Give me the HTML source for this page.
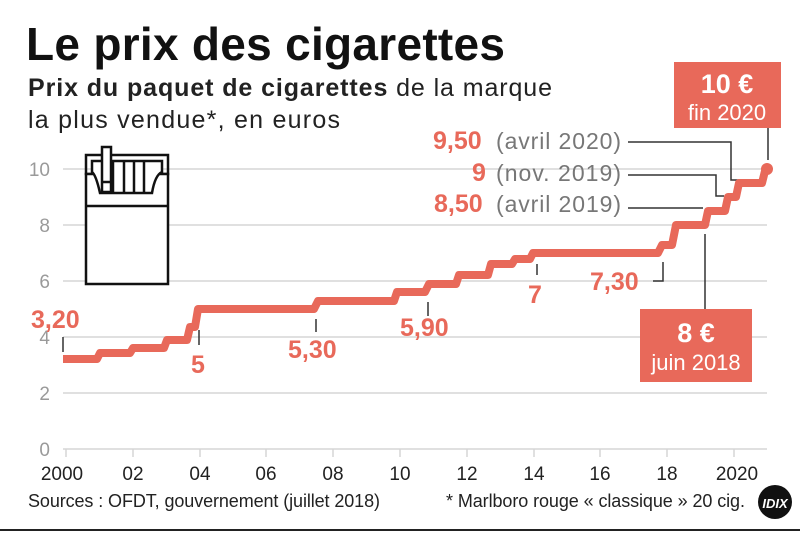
<!DOCTYPE html>
<html><head><meta charset="utf-8"><style>
body{margin:0;background:#fff;width:800px;height:534px;overflow:hidden;font-family:"Liberation Sans",sans-serif}
</style></head><body>
<svg width="800" height="534" viewBox="0 0 800 534" xmlns="http://www.w3.org/2000/svg" font-family="Liberation Sans, sans-serif">
<text x="26" y="60" font-size="46" font-weight="bold" fill="#111" textLength="479">Le prix des cigarettes</text>
<text x="28" y="96" font-size="25" fill="#222" textLength="524"><tspan font-weight="bold">Prix du paquet de cigarettes</tspan> de la marque</text>
<text x="28" y="128" font-size="25" fill="#222" textLength="312">la plus vendue*, en euros</text>
<g stroke="#d6d6d6" stroke-width="1.5">
<line x1="63" y1="169" x2="767" y2="169"/><line x1="63" y1="225" x2="767" y2="225"/>
<line x1="63" y1="281" x2="767" y2="281"/><line x1="63" y1="337" x2="767" y2="337"/>
<line x1="63" y1="393" x2="767" y2="393"/><line x1="63" y1="449" x2="767" y2="449"/>
</g>
<g stroke="#d6d6d6" stroke-width="1.5">
<line x1="66" y1="449" x2="66" y2="457"/><line x1="133" y1="449" x2="133" y2="457"/><line x1="200" y1="449" x2="200" y2="457"/><line x1="266" y1="449" x2="266" y2="457"/><line x1="333" y1="449" x2="333" y2="457"/><line x1="400" y1="449" x2="400" y2="457"/><line x1="467" y1="449" x2="467" y2="457"/><line x1="534" y1="449" x2="534" y2="457"/><line x1="600" y1="449" x2="600" y2="457"/><line x1="667" y1="449" x2="667" y2="457"/><line x1="734" y1="449" x2="734" y2="457"/>
</g>
<g font-size="19" fill="#9a9a9a" text-anchor="end">
<text x="50" y="176">10</text><text x="50" y="232">8</text><text x="50" y="288">6</text><text x="50" y="344">4</text><text x="50" y="400">2</text><text x="50" y="456">0</text>
</g>
<g font-size="19" fill="#222" text-anchor="middle">
<text x="62" y="480">2000</text><text x="133" y="480">02</text><text x="200" y="480">04</text><text x="266" y="480">06</text><text x="333" y="480">08</text><text x="400" y="480">10</text><text x="467" y="480">12</text><text x="534" y="480">14</text><text x="600" y="480">16</text><text x="667" y="480">18</text><text x="737" y="480">2020</text>
</g>
<g fill="none" stroke="#111" stroke-width="2.5">
<rect x="86" y="155" width="82" height="19"/>
<rect x="86" y="174" width="82" height="110" fill="#fff"/>
<line x1="86" y1="206" x2="168" y2="206"/>
<path d="M92 161 H162 V172 Q155 175 152 193 H100 Q96 175 92 172 Z" fill="#fff"/>
<line x1="113" y1="162" x2="113" y2="193"/><line x1="124" y1="162" x2="124" y2="193"/><line x1="134" y1="162" x2="134" y2="193"/><line x1="144" y1="162" x2="144" y2="193"/>
<rect x="102" y="147" width="9" height="45" fill="#fff"/>
<line x1="102" y1="182" x2="111" y2="182"/>
</g>
<g stroke="#333" stroke-width="1.5" fill="none">
<line x1="63" y1="337" x2="63" y2="352"/>
<line x1="199" y1="330" x2="199" y2="345"/>
<line x1="316" y1="319" x2="316" y2="332"/>
<line x1="428" y1="302" x2="428" y2="316"/>
<line x1="537" y1="264" x2="537" y2="275"/>
<polyline points="653,281 663,281 663,262"/>
<line x1="705" y1="234" x2="705" y2="310"/>
<polyline points="628,208 703,208"/>
<polyline points="628,175 716,175 716,196 724,196"/>
<polyline points="628,142 731,142 731,180 740,180"/>
<line x1="768" y1="128" x2="768" y2="160"/>
</g>
<polyline fill="none" stroke="#e8695a" stroke-width="8" stroke-linejoin="round" points="63,359 97,359 100,353 130,353 133,348 164,348 167,340 187,340 190,327 195,327 198,309 314,309 318,301 394,301 397,292 425,292 429,284 456,284 459,275 488,275 491,264 512,264 515,259 530,259 533,253 658,253 662,245 672,245 676,225 705,225 708,211 725,211 728,197 736,197 739,183 762,183 765,171"/>
<circle cx="767" cy="169" r="6" fill="#e8695a"/>
<g font-weight="bold" fill="#e8695a" font-size="25">
<text x="31" y="328">3,20</text>
<text x="191" y="373">5</text>
<text x="288" y="358">5,30</text>
<text x="400" y="336">5,90</text>
<text x="528" y="303">7</text>
<text x="590" y="290">7,30</text>
<text x="433" y="149">9,50</text>
<text x="472" y="181">9</text>
<text x="434" y="212">8,50</text>
</g>
<g font-size="23" fill="#777">
<text x="496" y="149" textLength="125">(avril 2020)</text>
<text x="496" y="181" textLength="125">(nov. 2019)</text>
<text x="496" y="212" textLength="125">(avril 2019)</text>
</g>
<rect x="640" y="309" width="112" height="73" fill="#e8695a"/>
<text x="696" y="342" text-anchor="middle" font-size="27" font-weight="bold" fill="#fff">8 €</text>
<text x="696" y="370" text-anchor="middle" font-size="22" fill="#fff">juin 2018</text>
<rect x="674" y="62" width="107" height="66" fill="#e8695a"/>
<text x="727" y="93" text-anchor="middle" font-size="27" font-weight="bold" fill="#fff">10 €</text>
<text x="727" y="120" text-anchor="middle" font-size="22" fill="#fff">fin 2020</text>
<text x="28" y="507" font-size="18" fill="#222" textLength="352">Sources : OFDT, gouvernement (juillet 2018)</text>
<text x="446" y="507" font-size="18" fill="#222" textLength="299">* Marlboro rouge « classique » 20 cig.</text>
<circle cx="775" cy="502" r="17" fill="#111"/>
<text x="775" y="508" text-anchor="middle" font-size="13" font-weight="bold" font-style="italic" fill="#fff">IDIX</text>
<line x1="0" y1="530" x2="800" y2="530" stroke="#222" stroke-width="2"/>
</svg>
</body></html>
